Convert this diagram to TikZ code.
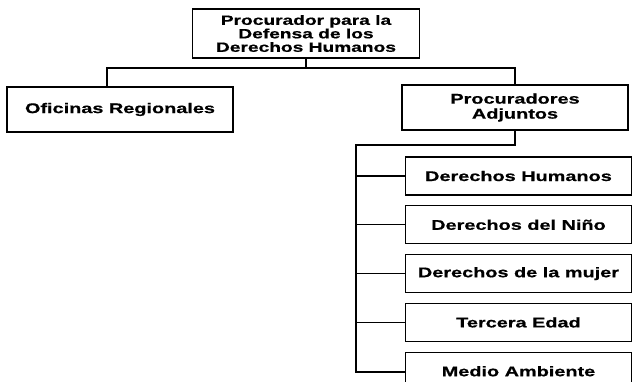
\documentclass[tikz,border=0pt]{standalone}
\usepackage{fontspec}
\newfontfamily\orgfont[FakeStretch=1.42, BoldFeatures={FakeBold=0.6}]{Liberation Sans}
\usetikzlibrary{positioning}
\tikzstyle{orgblock} = [draw, line width=1.3pt, minimum width=226pt, minimum height=45pt, align=center, inner sep=0pt, font=\orgfont\bfseries\fontsize{14}{15}\selectfont]
\tikzstyle{areablock} = [orgblock, minimum height=38pt]
\tikzstyle{link} = [line width=1.3pt]

\begin{document}
\begin{tikzpicture}[x=1pt, y=-1pt]
        \clip (0,0) rectangle (632,381);

        % Head
        \node[orgblock, minimum width=227pt, minimum height=49pt, font=\orgfont\bfseries\fontsize{13.5}{13.5}\selectfont] (head) at (306,33.5) {Procurador para la\\Defensa de los\\Derechos Humanos};

        % Second level
        \node[orgblock] (regional) at (120,109.5) {Oficinas Regionales};
        \node[orgblock] (adjuntos) at (515,107.5) {Procuradores\\Adjuntos};

        % Areas of the adjuntos
        \node[areablock] (humanos) at (518.5,176) {Derechos Humanos};
        \node[areablock, below=9.5pt of humanos] (nino) {Derechos del Niño};
        \node[areablock, below=9.5pt of nino] (mujer) {Derechos de la mujer};
        \node[areablock, below=9.5pt of mujer] (tercera) {Tercera Edad};
        \node[areablock, below=9.5pt of tercera] (medio) {Medio Ambiente};

        % Links
        \coordinate (regionalstem) at (107,68);
        \draw[link] (head.south) |- (regionalstem) -- (regionalstem |- regional.north);
        \draw[link] (head.south) |- (adjuntos.north |- regionalstem) -- (adjuntos.north);

        \coordinate (spine) at (356,145);
        \coordinate (spineend) at (356,372);
        \draw[link] (adjuntos.south) |- (spine) -- (spineend) -- (spineend -| medio.west);
        \foreach \n in {humanos, nino, mujer, tercera}
            \draw[link] (spine |- \n.west) -- (\n.west);
    \end{tikzpicture}
\end{document}
